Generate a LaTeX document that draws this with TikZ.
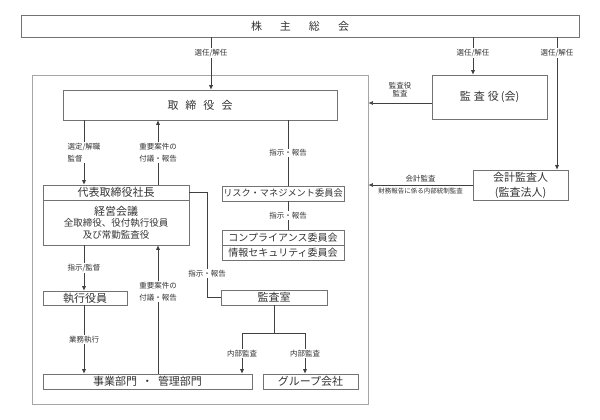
\documentclass[tikz,border=0pt]{standalone}
\usepackage{fontspec}
\newfontfamily\jp{Noto Sans CJK JP}
\usetikzlibrary{arrows.meta}

\tikzset{
  box/.style={draw=black!55, line width=0.6pt, inner sep=0pt, align=center, text=black!80,
    font=\jp\fontsize{11}{13}\selectfont},
  frame/.style={draw=black!35, line width=0.8pt, inner sep=0pt},
  conn/.style={draw=black!75, line width=0.6pt},
  arr/.style={conn, -{Latex[length=4.5pt,width=4pt]}},
  lbl/.style={fill=white, inner sep=1pt, text=black!80, align=left,
    font=\jp\fontsize{7.5}{12.5}\selectfont},
  note/.style={inner sep=1pt, text=black!80, align=center,
    font=\jp\fontsize{7.5}{8}\selectfont},
}

\begin{document}
\begin{tikzpicture}[x=1pt,y=-1pt]
\useasboundingbox (0,0) rectangle (600,420);

\node[box, minimum width=558, minimum height=22] (soukai) at (300,26) {株\hspace{18pt}主\hspace{18pt}総\hspace{18pt}会};
\node[frame, minimum width=336, minimum height=329] (kaisha) at (200,239.5) {};
\node[box, minimum width=274, minimum height=30] (torikai) at (200,105) {取\hspace{7pt}締\hspace{7pt}役\hspace{7pt}会};
\node[box, minimum width=115, minimum height=44] (kansayaku) at (489.5,97) {監\hspace{3pt}査\hspace{3pt}役\hspace{2pt}(会)};
\node[box, minimum width=95, minimum height=30, font=\jp\fontsize{11}{15}\selectfont] (kaikei) at (520.5,185) {会計監査人\\(監査法人)};

\node[box, minimum width=146, minimum height=15] (shacho) at (116,192.5) {代表取締役社長};
\node[box, minimum width=146, minimum height=45, font=\jp\fontsize{9.5}{11.5}\selectfont] (keiei) at (116,222.5)
  {{\fontsize{11}{11.5}\selectfont 経営会議}\\全取締役、役付執行役員\\及び常勤監査役};
\node[box, minimum width=122, minimum height=15, font=\jp\fontsize{9.2}{11}\selectfont] (risk) at (283,193.5) {リスク・マネジメント委員会};
\node[box, minimum width=122, minimum height=15, font=\jp\fontsize{10}{11}\selectfont] (compl) at (283,237.5) {コンプライアンス委員会};
\node[box, minimum width=122, minimum height=15, font=\jp\fontsize{10}{11}\selectfont] (joho) at (283,252.5) {情報セキュリティ委員会};
\node[box, minimum width=84, minimum height=14] (shikko) at (85,298) {執行役員};
\node[box, minimum width=106, minimum height=15] (kansashitsu) at (274,297.5) {監査室};
\node[box, minimum width=209, minimum height=15] (jigyo) at (147.5,381.5) {事業部門\hspace{5pt}・\hspace{5pt}管理部門};
\node[box, minimum width=95, minimum height=15] (group) at (310.5,381.5) {グループ会社};

\coordinate (xa) at (211,0);
\coordinate (xb) at (473,0);
\coordinate (xc) at (557,0);
\coordinate (xd) at (84,0);
\coordinate (xe) at (158,0);
\coordinate (xf) at (288,0);
\coordinate (xg) at (207,0);
\coordinate (xh) at (242,0);
\coordinate (xi) at (305,0);
\coordinate (ya) at (0,103);
\coordinate (yb) at (0,333);

% shareholders
\draw[arr] (soukai.south -| xa) -- node[lbl, pos=0.3] {選任/解任} (torikai.north -| xa);
\draw[arr] (soukai.south -| xb) -- node[lbl, pos=0.42] {選任/解任} (kansayaku.north -| xb);
\draw[arr] (soukai.south -| xc) -- node[lbl, pos=0.12] {選任/解任} (kaikei.north -| xc);

% audits from outside
\draw[arr] (kansayaku.west |- ya) -- node[note, above=5pt] {監査役\\監査} (kaisha.east |- ya);
\draw[arr] (kaikei.west) -- node[note, above=2pt] {会計監査}
  node[note, below=2pt, font=\jp\fontsize{6.5}{7}\selectfont] {財務報告に係る内部統制監査} (kaikei.west -| kaisha.east);

% board
\draw[arr] (torikai.south -| xd) -- node[lbl] {選定/解職\\監督} (shacho.north -| xd);
\draw[arr] (shacho.north -| xe) -- node[lbl] {重要案件の\\付議・報告} (torikai.south -| xe);
\draw[conn] (torikai.south -| xf) -- node[lbl] {指示・報告} (risk.north -| xf);
\draw[conn] (risk.south -| xf) -- node[lbl] {指示・報告} (compl.north -| xf);

% president
\draw[conn] (shacho.east) -- (shacho.east -| xg) -- node[lbl, pos=0.77] {指示・報告} (kansashitsu.west -| xg) -- (kansashitsu.west);
\draw[arr] (keiei.south -| xd) -- node[lbl] {指示/監督} (shikko.north -| xd);
\draw[arr] (jigyo.north -| xe) -- node[lbl, pos=0.64] {重要案件の\\付議・報告} (keiei.south -| xe);
\draw[arr] (shikko.south -| xd) -- node[lbl] {業務執行} (jigyo.north -| xd);

% internal audit
\draw[conn] (kansashitsu.south) -- (kansashitsu.south |- yb);
\draw[arr] (kansashitsu.south |- yb) -| node[lbl, pos=0.75] {内部監査} (jigyo.north -| xh);
\draw[arr] (kansashitsu.south |- yb) -| node[lbl, pos=0.75] {内部監査} (group.north -| xi);
\end{tikzpicture}
\end{document}
